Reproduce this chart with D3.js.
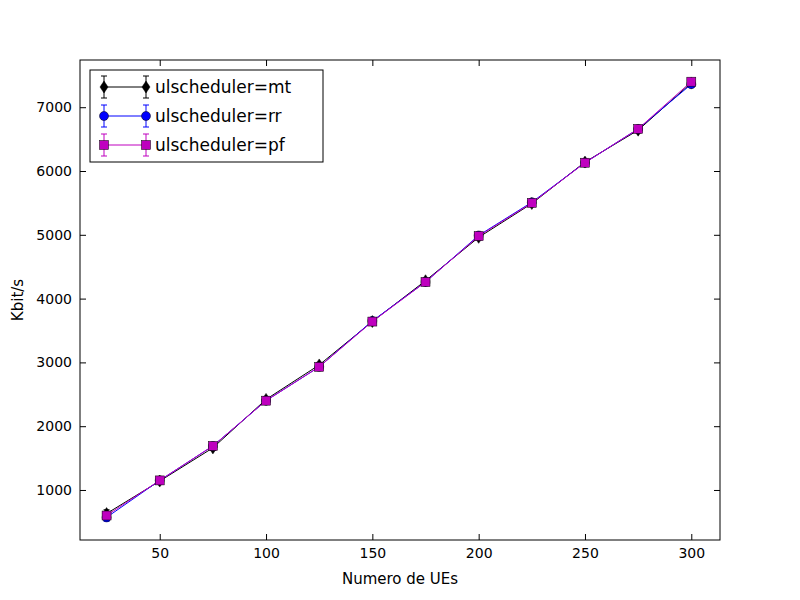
<!DOCTYPE html>
<html><head><meta charset="utf-8">
<script src="https://cdn.jsdelivr.net/npm/d3@7"></script>
<style>body{margin:0;background:#fff}text{font-family:"DejaVu Sans",sans-serif}</style>
</head><body><svg id="c" width="800" height="600"></svg>
<script>
const xs=[25,50,75,100,125,150,175,200,225,250,275,300];
const mt=[630,1140,1660,2420,2960,3640,4280,4960,5490,6140,6640,7380];
const rr=[570,1150,1690,2400,2930,3650,4260,4990,5510,6130,6660,7360];
const pf=[600,1150,1690,2400,2930,3640,4260,4980,5500,6130,6660,7400];
const errs=[60,40,40,40,40,40,40,40,40,40,40,40];
const series=[{name:"ulscheduler=mt",v:mt,c:"#000",m:"d"},{name:"ulscheduler=rr",v:rr,c:"#0000ff",m:"o"},{name:"ulscheduler=pf",v:pf,c:"#bf00bf",m:"s"}];
const xTicks=[50,100,150,200,250,300], yTicks=[1000,2000,3000,4000,5000,6000,7000];
const svg=d3.select("#c");
const L=80,R=720,T=60,B=540;
const x=d3.scaleLinear().domain([12.5,313.5]).range([L,R]);
const y=d3.scaleLinear().domain([216,7740]).range([B,T]);
function ax(g,a){g.call(a);g.select(".domain").remove();g.selectAll("text").attr("font-size",14).attr("fill","#000");}
svg.append("g").attr("transform",`translate(0,${B})`).call(g=>ax(g,d3.axisBottom(x).tickValues(xTicks).tickSize(-6).tickPadding(8)));
svg.append("g").attr("transform",`translate(0,${T})`).call(g=>{g.call(d3.axisTop(x).tickValues(xTicks).tickSize(-6).tickFormat(""));g.select(".domain").remove();});
svg.append("g").attr("transform",`translate(${L},0)`).call(g=>ax(g,d3.axisLeft(y).tickValues(yTicks).tickFormat(d3.format("d")).tickSize(-6).tickPadding(8)));
svg.append("g").attr("transform",`translate(${R},0)`).call(g=>{g.call(d3.axisRight(y).tickValues(yTicks).tickSize(-6).tickFormat(""));g.select(".domain").remove();});
svg.append("rect").attr("x",L).attr("y",T).attr("width",R-L).attr("height",B-T).attr("fill","none").attr("stroke","#000");
svg.append("text").attr("x",(L+R)/2).attr("y",584).attr("text-anchor","middle").attr("font-size",15).text("Numero de UEs");
svg.append("text").attr("transform",`translate(23,${(T+B)/2}) rotate(-90)`).attr("text-anchor","middle").attr("font-size",15).text("Kbit/s");
function marker(g,m,c,cx,cy){
 if(m==="o")g.append("circle").attr("cx",cx).attr("cy",cy).attr("r",4.5).attr("fill",c).attr("stroke","#000").attr("stroke-width",0.5);
 else if(m==="s")g.append("rect").attr("x",cx-4.5).attr("y",cy-4.5).attr("width",9).attr("height",9).attr("fill",c).attr("stroke","#000").attr("stroke-width",0.5);
 else g.append("path").attr("d",`M${cx},${cy-6}L${cx+4},${cy}L${cx},${cy+6}L${cx-4},${cy}Z`).attr("fill",c).attr("stroke","#000").attr("stroke-width",0.5);
}
const line=d3.line().x((d,i)=>x(xs[i])).y(d=>y(d));
const pg=svg.append("g");
series.forEach(s=>{
 pg.append("path").attr("d",line(s.v)).attr("fill","none").attr("stroke",s.c).attr("stroke-width",1);
 s.v.forEach((v,i)=>{const cx=x(xs[i]);
  pg.append("line").attr("x1",cx).attr("x2",cx).attr("y1",y(v-errs[i])).attr("y2",y(v+errs[i])).attr("stroke",s.c);
  [v-errs[i],v+errs[i]].forEach(e=>pg.append("line").attr("x1",cx-3).attr("x2",cx+3).attr("y1",y(e)).attr("y2",y(e)).attr("stroke",s.c));
  marker(pg,s.m,s.c,cx,y(v));});
});
const lg=svg.append("g");
lg.append("rect").attr("x",90).attr("y",70).attr("width",233).attr("height",92).attr("fill","#fff").attr("stroke","#000");
series.forEach((s,i)=>{const cy=87+i*29;
 lg.append("line").attr("x1",104).attr("x2",146).attr("y1",cy).attr("y2",cy).attr("stroke",s.c);
 [104,146].forEach(cx=>{lg.append("line").attr("x1",cx).attr("x2",cx).attr("y1",cy-11).attr("y2",cy+11).attr("stroke",s.c);
  lg.append("line").attr("x1",cx-3).attr("x2",cx+3).attr("y1",cy-11).attr("y2",cy-11).attr("stroke",s.c);
  lg.append("line").attr("x1",cx-3).attr("x2",cx+3).attr("y1",cy+11).attr("y2",cy+11).attr("stroke",s.c);
  marker(lg,s.m,s.c,cx,cy);});
 lg.append("text").attr("x",155).attr("y",cy+6).attr("font-size",17).text(s.name);
});
</script></body></html>
